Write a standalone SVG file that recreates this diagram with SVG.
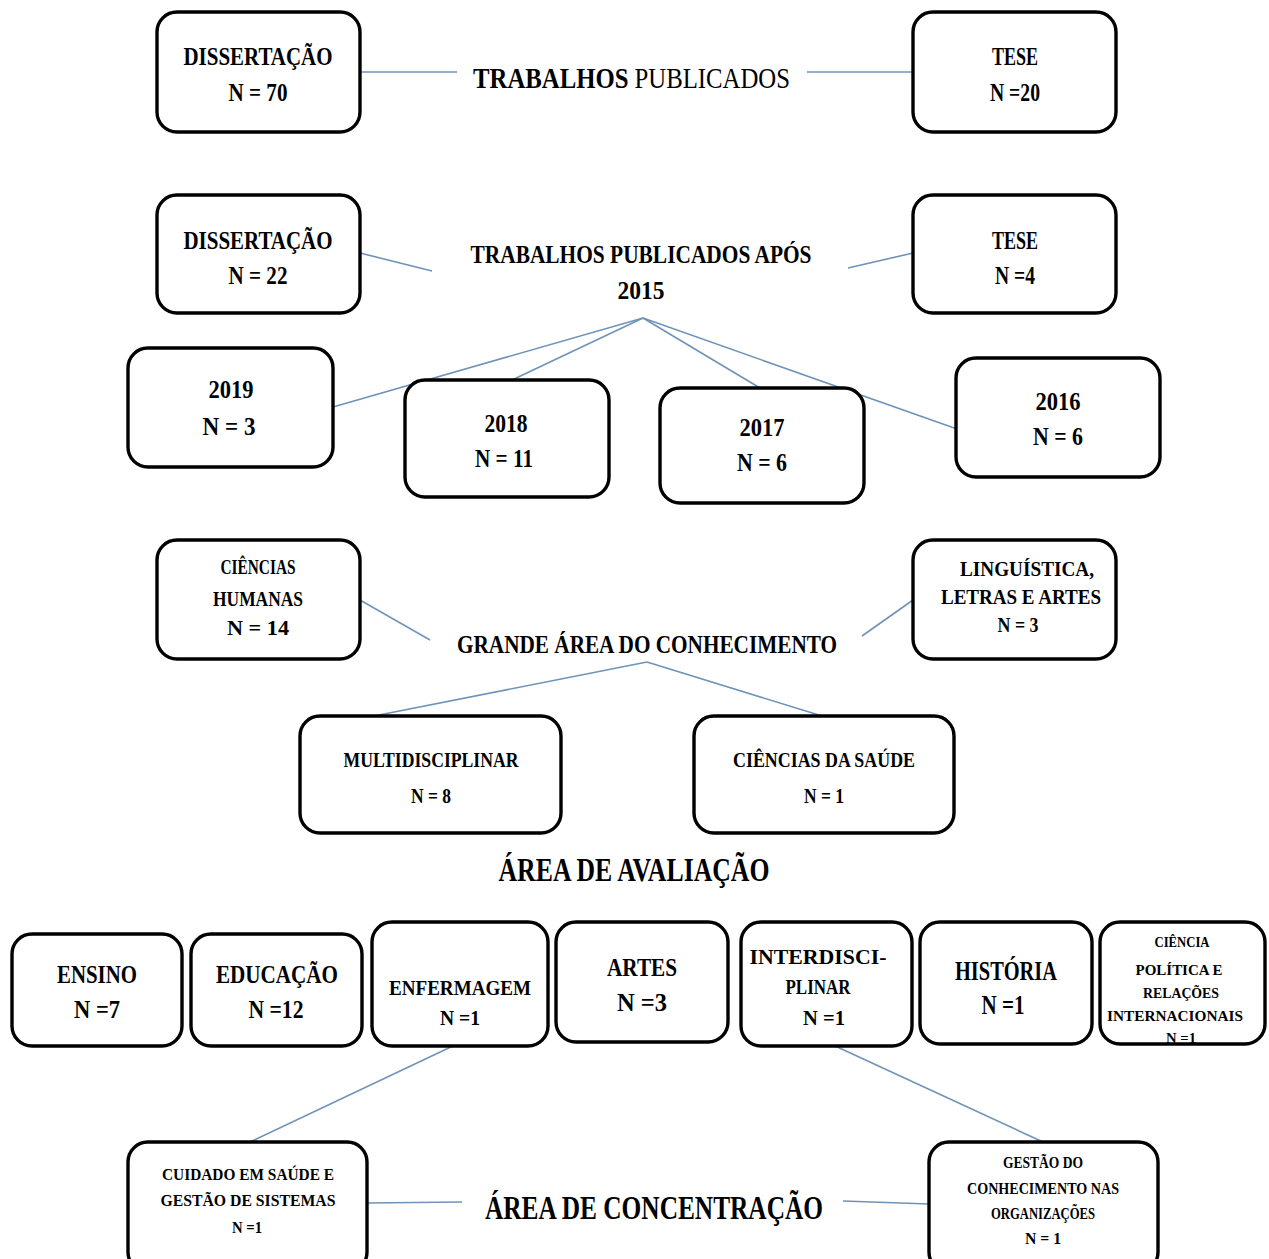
<svg xmlns="http://www.w3.org/2000/svg" width="1269" height="1259" viewBox="0 0 1269 1259">
<style>
.box{fill:#fff;stroke:#000;stroke-width:3.4}
.t{font-family:"Liberation Serif","Times New Roman",serif;font-weight:bold;fill:#000;text-anchor:middle}
.c line{stroke:#6f93b8;stroke-width:1.6}
</style>
<rect width="1269" height="1259" fill="#fff"/>
<g class="c" id="connectors">
<line x1="360" y1="72" x2="457" y2="72"/>
<line x1="807" y1="72" x2="913" y2="72"/>
<line x1="360" y1="253" x2="432" y2="271"/>
<line x1="848" y1="268" x2="913" y2="253"/>
<line x1="643" y1="318" x2="333" y2="407"/>
<line x1="643" y1="318" x2="512" y2="380"/>
<line x1="643" y1="318" x2="760" y2="388"/>
<line x1="643" y1="318" x2="957" y2="429"/>
<line x1="360" y1="600" x2="430" y2="640"/>
<line x1="862" y1="636" x2="913" y2="600"/>
<line x1="647" y1="662" x2="374" y2="716"/>
<line x1="647" y1="662" x2="822" y2="716"/>
<line x1="455" y1="1045" x2="250" y2="1142"/>
<line x1="833" y1="1045" x2="1043" y2="1142"/>
<line x1="367" y1="1203" x2="462" y2="1202"/>
<line x1="843" y1="1201" x2="929" y2="1204"/>
</g>
<g id="titles">
<text class="t" x="473" y="88" font-size="30" textLength="317" lengthAdjust="spacingAndGlyphs" style="text-anchor:start">TRABALHOS <tspan font-weight="normal">PUBLICADOS</tspan></text>
<text class="t" x="641" y="263" font-size="25" textLength="341" lengthAdjust="spacingAndGlyphs">TRABALHOS PUBLICADOS APÓS</text>
<text class="t" x="641" y="299" font-size="25" textLength="47" lengthAdjust="spacingAndGlyphs">2015</text>
<text class="t" x="647" y="653" font-size="25" textLength="380" lengthAdjust="spacingAndGlyphs">GRANDE ÁREA DO CONHECIMENTO</text>
<text class="t" x="634" y="881" font-size="33" textLength="271" lengthAdjust="spacingAndGlyphs">ÁREA DE AVALIAÇÃO</text>
<text class="t" x="654" y="1219" font-size="33" textLength="338" lengthAdjust="spacingAndGlyphs">ÁREA DE CONCENTRAÇÃO</text>
</g>
<g id="n-diss1"><rect class="box" x="157" y="12" width="203" height="120" rx="20"/>
<text class="t" x="258" y="65" font-size="25" textLength="149" lengthAdjust="spacingAndGlyphs">DISSERTAÇÃO</text>
<text class="t" x="258" y="101" font-size="25" textLength="59" lengthAdjust="spacingAndGlyphs">N = 70</text></g>
<g id="n-tese1"><rect class="box" x="913" y="12" width="203" height="120" rx="20"/>
<text class="t" x="1015" y="65" font-size="25" textLength="46" lengthAdjust="spacingAndGlyphs">TESE</text>
<text class="t" x="1015" y="101" font-size="25" textLength="50" lengthAdjust="spacingAndGlyphs">N =20</text></g>
<g id="n-diss2"><rect class="box" x="157" y="195" width="203" height="118" rx="20"/>
<text class="t" x="258" y="249" font-size="25" textLength="149" lengthAdjust="spacingAndGlyphs">DISSERTAÇÃO</text>
<text class="t" x="258" y="284" font-size="25" textLength="59" lengthAdjust="spacingAndGlyphs">N = 22</text></g>
<g id="n-tese2"><rect class="box" x="913" y="195" width="203" height="118" rx="20"/>
<text class="t" x="1015" y="249" font-size="25" textLength="46" lengthAdjust="spacingAndGlyphs">TESE</text>
<text class="t" x="1015" y="284" font-size="25" textLength="40" lengthAdjust="spacingAndGlyphs">N =4</text></g>
<g id="n-2019"><rect class="box" x="128" y="348" width="205" height="119" rx="20"/>
<text class="t" x="231" y="398" font-size="25" textLength="45" lengthAdjust="spacingAndGlyphs">2019</text>
<text class="t" x="229" y="435" font-size="25" textLength="53" lengthAdjust="spacingAndGlyphs">N = 3</text></g>
<g id="n-2018"><rect class="box" x="405" y="380" width="204" height="117" rx="20"/>
<text class="t" x="506" y="432" font-size="25" textLength="43" lengthAdjust="spacingAndGlyphs">2018</text>
<text class="t" x="504" y="467" font-size="25" textLength="58" lengthAdjust="spacingAndGlyphs">N = 11</text></g>
<g id="n-2017"><rect class="box" x="660" y="388" width="204" height="115" rx="20"/>
<text class="t" x="762" y="436" font-size="25" textLength="45" lengthAdjust="spacingAndGlyphs">2017</text>
<text class="t" x="762" y="471" font-size="25" textLength="50" lengthAdjust="spacingAndGlyphs">N = 6</text></g>
<g id="n-2016"><rect class="box" x="956" y="358" width="204" height="119" rx="20"/>
<text class="t" x="1058" y="410" font-size="25" textLength="45" lengthAdjust="spacingAndGlyphs">2016</text>
<text class="t" x="1058" y="445" font-size="25" textLength="50" lengthAdjust="spacingAndGlyphs">N = 6</text></g>
<g id="n-humanas"><rect class="box" x="157" y="540" width="203" height="119" rx="20"/>
<text class="t" x="258" y="574" font-size="20" textLength="75" lengthAdjust="spacingAndGlyphs">CIÊNCIAS</text>
<text class="t" x="258" y="606" font-size="20" textLength="90" lengthAdjust="spacingAndGlyphs">HUMANAS</text>
<text class="t" x="258" y="635" font-size="20" textLength="62" lengthAdjust="spacingAndGlyphs">N = 14</text></g>
<g id="n-linguistica"><rect class="box" x="913" y="540" width="203" height="119" rx="20"/>
<text class="t" x="1027" y="576" font-size="21" textLength="134" lengthAdjust="spacingAndGlyphs">LINGUÍSTICA,</text>
<text class="t" x="1021" y="604" font-size="21" textLength="160" lengthAdjust="spacingAndGlyphs">LETRAS  E ARTES</text>
<text class="t" x="1018" y="632" font-size="21" textLength="41" lengthAdjust="spacingAndGlyphs">N = 3</text></g>
<g id="n-multi"><rect class="box" x="300" y="716" width="261" height="117" rx="20"/>
<text class="t" x="431" y="767" font-size="20" textLength="175" lengthAdjust="spacingAndGlyphs">MULTIDISCIPLINAR</text>
<text class="t" x="431" y="803" font-size="20" textLength="40" lengthAdjust="spacingAndGlyphs">N = 8</text></g>
<g id="n-saude"><rect class="box" x="694" y="716" width="260" height="117" rx="20"/>
<text class="t" x="824" y="767" font-size="20" textLength="182" lengthAdjust="spacingAndGlyphs">CIÊNCIAS DA SAÚDE</text>
<text class="t" x="824" y="803" font-size="20" textLength="40" lengthAdjust="spacingAndGlyphs">N = 1</text></g>
<g id="n-ensino"><rect class="box" x="12" y="934" width="170" height="112" rx="20"/>
<text class="t" x="97" y="983" font-size="26" textLength="80" lengthAdjust="spacingAndGlyphs">ENSINO</text>
<text class="t" x="97" y="1018" font-size="26" textLength="46" lengthAdjust="spacingAndGlyphs">N =7</text></g>
<g id="n-educacao"><rect class="box" x="191" y="934" width="171" height="112" rx="20"/>
<text class="t" x="277" y="983" font-size="26" textLength="122" lengthAdjust="spacingAndGlyphs">EDUCAÇÃO</text>
<text class="t" x="276" y="1018" font-size="26" textLength="55" lengthAdjust="spacingAndGlyphs">N =12</text></g>
<g id="n-enfermagem"><rect class="box" x="372" y="922" width="176" height="124" rx="20"/>
<text class="t" x="460" y="995" font-size="21" textLength="142" lengthAdjust="spacingAndGlyphs">ENFERMAGEM</text>
<text class="t" x="460" y="1025" font-size="21" textLength="40" lengthAdjust="spacingAndGlyphs">N =1</text></g>
<g id="n-artes"><rect class="box" x="556" y="922" width="172" height="120" rx="20"/>
<text class="t" x="642" y="976" font-size="26" textLength="70" lengthAdjust="spacingAndGlyphs">ARTES</text>
<text class="t" x="642" y="1011" font-size="26" textLength="50" lengthAdjust="spacingAndGlyphs">N =3</text></g>
<g id="n-interdisciplinar"><rect class="box" x="741" y="922" width="171" height="124" rx="20"/>
<text class="t" x="818" y="964" font-size="20" textLength="137" lengthAdjust="spacingAndGlyphs">INTERDISCI-</text>
<text class="t" x="818" y="994" font-size="20" textLength="65" lengthAdjust="spacingAndGlyphs">PLINAR</text>
<text class="t" x="824" y="1025" font-size="20" textLength="42" lengthAdjust="spacingAndGlyphs">N =1</text></g>
<g id="n-historia"><rect class="box" x="920" y="922" width="172" height="122" rx="20"/>
<text class="t" x="1006" y="980" font-size="28" textLength="102" lengthAdjust="spacingAndGlyphs">HISTÓRIA</text>
<text class="t" x="1003" y="1014" font-size="28" textLength="43" lengthAdjust="spacingAndGlyphs">N =1</text></g>
<g id="n-ciencia-politica"><rect class="box" x="1100" y="922" width="165" height="122" rx="20"/>
<text class="t" x="1182" y="947" font-size="15" textLength="55" lengthAdjust="spacingAndGlyphs">CIÊNCIA</text>
<text class="t" x="1179" y="975" font-size="15" textLength="87" lengthAdjust="spacingAndGlyphs">POLÍTICA  E</text>
<text class="t" x="1181" y="998" font-size="15" textLength="76" lengthAdjust="spacingAndGlyphs">RELAÇÕES</text>
<text class="t" x="1175" y="1021" font-size="15" textLength="136" lengthAdjust="spacingAndGlyphs">INTERNACIONAIS</text>
<text class="t" x="1181" y="1043" font-size="15" textLength="30" lengthAdjust="spacingAndGlyphs">N =1</text></g>
<g id="n-cuidado"><rect class="box" x="128" y="1142" width="239" height="130" rx="20"/>
<text class="t" x="248" y="1180" font-size="16" textLength="172" lengthAdjust="spacingAndGlyphs">CUIDADO  EM  SAÚDE  E</text>
<text class="t" x="248" y="1206" font-size="16" textLength="175" lengthAdjust="spacingAndGlyphs">GESTÃO  DE  SISTEMAS</text>
<text class="t" x="247" y="1233" font-size="16" textLength="30" lengthAdjust="spacingAndGlyphs">N =1</text></g>
<g id="n-gestao"><rect class="box" x="929" y="1142" width="229" height="130" rx="20"/>
<text class="t" x="1043" y="1168" font-size="16" textLength="80" lengthAdjust="spacingAndGlyphs">GESTÃO  DO</text>
<text class="t" x="1043" y="1194" font-size="16" textLength="152" lengthAdjust="spacingAndGlyphs">CONHECIMENTO  NAS</text>
<text class="t" x="1043" y="1219" font-size="16" textLength="104" lengthAdjust="spacingAndGlyphs">ORGANIZAÇÕES</text>
<text class="t" x="1043" y="1244" font-size="16" textLength="36" lengthAdjust="spacingAndGlyphs">N = 1</text></g>
</svg>
